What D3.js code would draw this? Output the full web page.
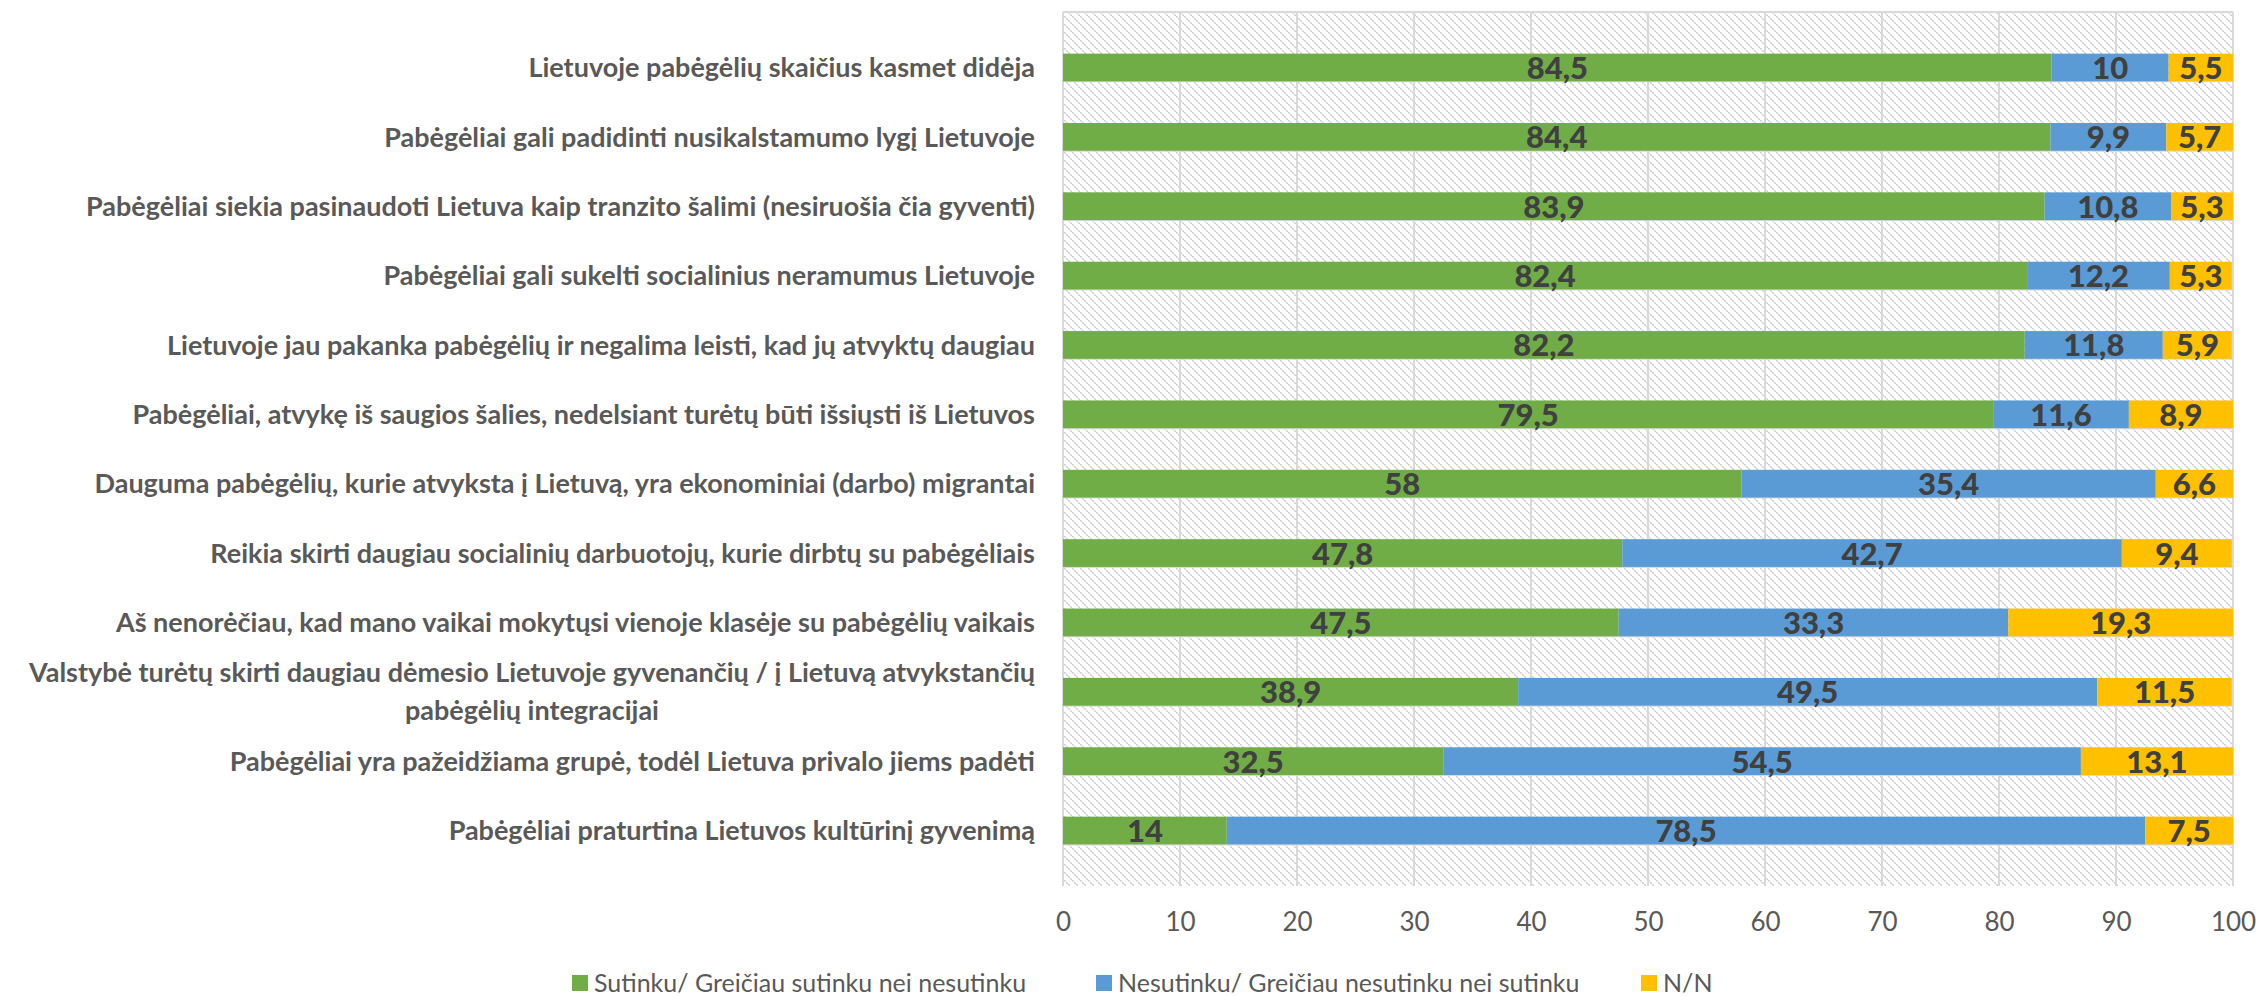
<!DOCTYPE html>
<html>
<head>
<meta charset="utf-8">
<script src="https://cdn.jsdelivr.net/npm/d3@7"></script>
<style>
  body { margin: 0; background: #fff; }
  text { font-family: Lato, "Open Sans", sans-serif; }
</style>
</head>
<body>
<div id="chart"></div>
<script>
// statements (top to bottom)
var categories = [
    ["Lietuvoje pabėgėlių skaičius kasmet didėja"],
    ["Pabėgėliai gali padidinti nusikalstamumo lygį Lietuvoje"],
    ["Pabėgėliai siekia pasinaudoti Lietuva kaip tranzito šalimi (nesiruošia čia gyventi)"],
    ["Pabėgėliai gali sukelti socialinius neramumus Lietuvoje"],
    ["Lietuvoje jau pakanka pabėgėlių ir negalima leisti, kad jų atvyktų daugiau"],
    ["Pabėgėliai, atvykę iš saugios šalies, nedelsiant turėtų būti išsiųsti iš Lietuvos"],
    ["Dauguma pabėgėlių, kurie atvyksta į Lietuvą, yra ekonominiai (darbo) migrantai"],
    ["Reikia skirti daugiau socialinių darbuotojų, kurie dirbtų su pabėgėliais"],
    ["Aš nenorėčiau, kad mano vaikai mokytųsi vienoje klasėje su pabėgėlių vaikais"],
    ["Valstybė turėtų skirti daugiau dėmesio Lietuvoje gyvenančių / į Lietuvą atvykstančių", "pabėgėlių integracijai"],
    ["Pabėgėliai yra pažeidžiama grupė, todėl Lietuva privalo jiems padėti"],
    ["Pabėgėliai praturtina Lietuvos kultūrinį gyvenimą"]
];

var agree    = [84.5, 84.4, 83.9, 82.4, 82.2, 79.5, 58, 47.8, 47.5, 38.9, 32.5, 14];
var disagree = [10, 9.9, 10.8, 12.2, 11.8, 11.6, 35.4, 42.7, 33.3, 49.5, 54.5, 78.5];
var dontKnow = [5.5, 5.7, 5.3, 5.3, 5.9, 8.9, 6.6, 9.4, 19.3, 11.5, 13.1, 7.5];

var seriesNames = [
    "Sutinku/ Greičiau sutinku nei nesutinku",
    "Nesutinku/ Greičiau nesutinku nei sutinku",
    "N/N"
];
var seriesColors = ["#70AD47", "#5B9BD5", "#FFC000"];
var xTicks = [0, 10, 20, 30, 40, 50, 60, 70, 80, 90, 100];

var W = 2259, H = 996;
var plot = { left: 1063, right: 2233, top: 12, bottom: 886 };

var svg = d3.select("#chart").append("svg")
    .attr("width", W)
    .attr("height", H);

// hatch pattern for the plot background
var defs = svg.append("defs");
var pat = defs.append("pattern")
    .attr("id", "hatch")
    .attr("patternUnits", "userSpaceOnUse")
    .attr("width", 8)
    .attr("height", 8);
pat.append("rect").attr("width", 8).attr("height", 8).attr("fill", "#fff");
pat.append("path")
    .attr("d", "M-2,-2 L10,10 M-2,6 L2,10 M6,-2 L10,2")
    .attr("stroke", "#c8c8c8")
    .attr("stroke-width", 1.4)
    .attr("stroke-dasharray", "2,1");

var x = d3.scaleLinear()
    .domain([0, 100])
    .range([plot.left, plot.right]);

var y = d3.scaleBand()
    .domain(d3.range(categories.length))
    .range([plot.top, plot.bottom])
    .padding(0.6);

var step = y.step();

svg.append("rect")
    .attr("x", plot.left)
    .attr("y", plot.top)
    .attr("width", plot.right - plot.left)
    .attr("height", plot.bottom - plot.top)
    .attr("fill", "url(#hatch)");

// gridlines
svg.append("g").selectAll("line")
    .data(xTicks)
    .enter().append("line")
    .attr("x1", d => x(d)).attr("x2", d => x(d))
    .attr("y1", plot.top).attr("y2", plot.bottom)
    .attr("stroke", "#d9d9d9")
    .attr("stroke-width", 2);

svg.append("g").selectAll("line")
    .data(d3.range(categories.length + 1))
    .enter().append("line")
    .attr("x1", plot.left).attr("x2", plot.right)
    .attr("y1", i => plot.top + i * step).attr("y2", i => plot.top + i * step)
    .attr("stroke", "#d9d9d9")
    .attr("stroke-width", 2);

// stack the three series
var rows = categories.map(function (c, i) {
    return { i: i, s0: agree[i], s1: disagree[i], s2: dontKnow[i] };
});
var stack = d3.stack().keys(["s0", "s1", "s2"]);
var layers = stack(rows);

var fmt = function (v) { return String(v).replace(".", ","); };

layers.forEach(function (layer, k) {
    var g = svg.append("g");
    g.selectAll("rect")
        .data(layer)
        .enter().append("rect")
        .attr("x", d => x(d[0]))
        .attr("y", d => y(d.data.i))
        .attr("width", d => x(Math.min(d[1], 100)) - x(d[0]))
        .attr("height", y.bandwidth())
        .attr("fill", seriesColors[k]);

    g.selectAll("text")
        .data(layer)
        .enter().append("text")
        .attr("x", d => (x(d[0]) + x(Math.min(d[1], 100))) / 2)
        .attr("y", d => y(d.data.i) + y.bandwidth() / 2)
        .attr("dy", "0.37em")
        .attr("text-anchor", "middle")
        .style("font-size", "31px")
        .style("font-weight", "900")
        .style("fill", "#404040")
        .text(d => fmt(d.data[layer.key]));
});

// x axis labels
var xAxis = svg.append("g")
    .attr("transform", "translate(0," + plot.bottom + ")")
    .call(d3.axisBottom(x).tickValues(xTicks).tickSize(0).tickPadding(27));
xAxis.select(".domain").remove();
xAxis.selectAll("text")
    .style("font-family", "Lato, 'Open Sans', sans-serif")
    .style("font-size", "26px")
    .style("fill", "#595959");

// category labels
var labelRight = 1035;
var labelStyle = function (t) {
    t.style("font-size", "27px")
        .style("font-weight", "bold")
        .style("fill", "#595959");
};
categories.forEach(function (lines, i) {
    var cy = y(i) + y.bandwidth() / 2;
    if (lines.length === 1) {
        svg.append("text")
            .attr("x", labelRight)
            .attr("y", cy)
            .attr("dy", "0.36em")
            .attr("text-anchor", "end")
            .call(labelStyle)
            .text(lines[0]);
    } else {
        var first = svg.append("text")
            .attr("x", labelRight)
            .attr("y", cy - 19)
            .attr("dy", "0.36em")
            .attr("text-anchor", "end")
            .call(labelStyle)
            .text(lines[0]);
        var w = first.node().getComputedTextLength();
        svg.append("text")
            .attr("x", labelRight - w / 2)
            .attr("y", cy + 19)
            .attr("dy", "0.36em")
            .attr("text-anchor", "middle")
            .call(labelStyle)
            .text(lines[1]);
    }
});

// legend
var legendX = [572, 1096, 1641];
var legend = svg.append("g").selectAll("g")
    .data(seriesNames)
    .enter().append("g")
    .attr("transform", (d, i) => "translate(" + legendX[i] + ",983)");
legend.append("rect")
    .attr("x", 0).attr("y", -8)
    .attr("width", 16).attr("height", 16)
    .attr("fill", (d, i) => seriesColors[i]);
legend.append("text")
    .attr("x", 22)
    .attr("dy", "0.36em")
    .style("font-size", "25px")
    .style("fill", "#595959")
    .text(d => d);
</script>
</body>
</html>
